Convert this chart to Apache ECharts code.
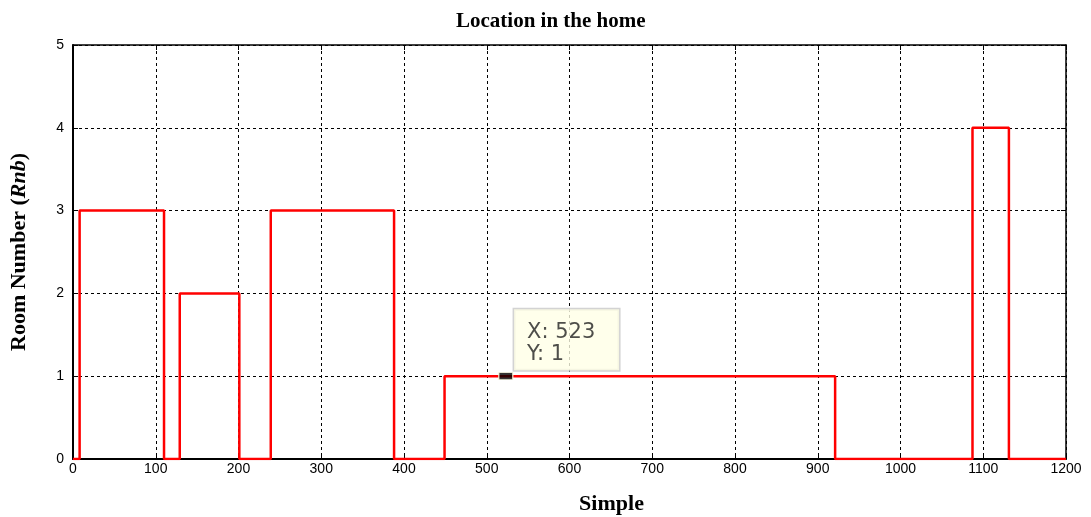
<!DOCTYPE html>
<html>
<head>
<meta charset="utf-8">
<script src="https://cdn.jsdelivr.net/npm/echarts@6/dist/echarts.min.js"></script>
<style>
  html, body { margin: 0; padding: 0; background: #fff; }
  #chart { width: 1091px; height: 517px; }
</style>
</head>
<body>
<div id="chart"></div>
<script>
// samples where the room changes, and the room entered there
const changeSamples = [0, 8, 110, 129, 201, 239, 388, 449, 921, 1087, 1131, 1200];
const roomNumbers = [0, 3, 0, 2, 0, 3, 0, 1, 0, 4, 0, 0];
// data tip
const tipSample = 523;
const tipRoom = 1;

const chart = echarts.init(document.getElementById('chart'));

const lineData = changeSamples.map((x, i) => [x, roomNumbers[i]]);

// dashed grid + inward ticks, matlab style
const tickFont = { color: '#000', fontFamily: 'Liberation Sans, Arial', fontSize: 14 };
const gridLine = { show: true, lineStyle: { color: '#000', type: [3, 3], width: 1 } };

const option = {
  animation: false,
  title: {
    text: 'Location in the home',
    left: 451,
    top: 6,
    textStyle: { fontFamily: 'Liberation Serif', fontWeight: 'bold', fontSize: 21, color: '#000' }
  },
  grid: { left: 73, right: 25, top: 45, bottom: 58, show: false, outerBoundsMode: 'none' },
  xAxis: [
    {
      type: 'value',
      min: 0,
      max: 1200,
      interval: 100,
      name: 'Simple',
      nameLocation: 'middle',
      nameGap: 34,
      nameTextStyle: {
        fontFamily: 'Liberation Serif', fontWeight: 'bold', fontSize: 22, color: '#000',
        padding: [0, 0, 0, 84]
      },
      axisLine: { show: true, onZero: false, lineStyle: { color: '#000', width: 2 } },
      axisTick: { show: true, inside: true, length: 5, lineStyle: { color: '#000' } },
      axisLabel: Object.assign({ margin: 3, formatter: v => String(v) }, tickFont),
      splitLine: gridLine
    },
    {
      type: 'value',
      position: 'top',
      min: 0,
      max: 1200,
      interval: 100,
      axisLine: { show: true, onZero: false, lineStyle: { color: '#000', width: 1.5 } },
      axisTick: { show: true, inside: true, length: 5, lineStyle: { color: '#000' } },
      axisLabel: { show: false },
      splitLine: { show: false }
    }
  ],
  yAxis: [
    {
      type: 'value',
      min: 0,
      max: 5,
      interval: 1,
      name: '{a|Room Number (}{b|Rnb}{a|)}',
      nameLocation: 'middle',
      nameGap: 43,
      nameTextStyle: {
        rich: {
          a: { fontFamily: 'Liberation Serif', fontWeight: 'bold', fontSize: 22, color: '#000' },
          b: { fontFamily: 'Liberation Serif', fontWeight: 'bold', fontStyle: 'italic', fontSize: 22, color: '#000' }
        }
      },
      axisLine: { show: true, onZero: false, lineStyle: { color: '#000', width: 2 } },
      axisTick: { show: true, inside: true, length: 5, lineStyle: { color: '#000' } },
      axisLabel: Object.assign({ margin: 9 }, tickFont),
      splitLine: gridLine
    },
    {
      type: 'value',
      position: 'right',
      min: 0,
      max: 5,
      interval: 1,
      axisLine: { show: true, onZero: false, lineStyle: { color: '#000', width: 1.5 } },
      axisTick: { show: true, inside: true, length: 5, lineStyle: { color: '#000' } },
      axisLabel: { show: false },
      splitLine: { show: false }
    }
  ],
  series: [
    {
      type: 'line',
      step: 'end',
      data: lineData,
      showSymbol: false,
      lineStyle: { color: '#ff0000', width: 2.5 },
      z: 3
    },
    {
      type: 'scatter',
      data: [[tipSample, tipRoom]],
      symbol: 'rect',
      symbolSize: [14, 7],
      itemStyle: { color: '#000', borderColor: '#ffffe0', borderWidth: 1 },
      z: 5,
      label: {
        show: true,
        position: [16, -63],
        align: 'left',
        verticalAlign: 'top',
        formatter: 'X: ' + tipSample + '\nY: ' + tipRoom,
        fontFamily: 'DejaVu Sans',
        fontSize: 21,
        lineHeight: 22,
        color: '#222',
        backgroundColor: '#ffffe6',
        borderColor: '#c8c8c8',
        borderWidth: 1.5,
        width: 80,
        padding: [12, 12, 5, 13]
      }
    }
  ]
};

chart.setOption(option);
</script>
</body>
</html>
